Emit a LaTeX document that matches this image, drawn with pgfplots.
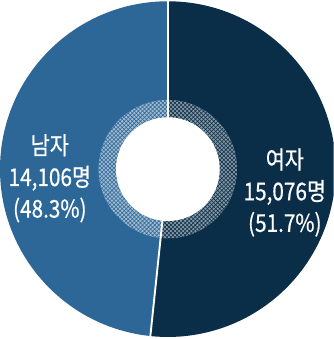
\documentclass[border=0pt]{standalone}
\usepackage{pgfplots}
\pgfplotsset{compat=1.18}
\usepackage{pgfplotstable}
\usepackage{fontspec}
\usetikzlibrary{patterns}
\newfontfamily\kr[FakeStretch=0.85, FakeBold=0.6]{Noto Sans CJK KR}

\definecolor{male}{HTML}{2D6797}
\definecolor{female}{HTML}{0A2E47}

% people by sex: female, male
\pgfplotstableread{
sex value
female 15076
male 14106
}\gender

\begin{document}
\begin{tikzpicture}
\pgfplotstablegetelem{0}{value}\of\gender \let\vf\pgfplotsretval
\pgfplotstablegetelem{1}{value}\of\gender \let\vm\pgfplotsretval
\pgfmathsetmacro\af{90-360*(\vf/1000)/(\vf/1000+\vm/1000)}
\pgfmathsetmacro\am{\af+360}
\begin{axis}[hide axis, x=0.75pt, y=0.75pt,
    xmin=0, xmax=336, ymin=0, ymax=339, clip=true]
\def\cx{173}\def\cy{167}
% outer slices (radii in px, 1px = 0.75pt)
\fill[female] (axis cs:\cx,\cy) -- (axis cs:\cx,\cy+165)
    arc[start angle=90, end angle=\af, radius=123.75pt] -- cycle;
\fill[male] (axis cs:\cx,\cy) -- (axis cs:\cx,\cy+165)
    arc[start angle=90, end angle=\am, radius=123.75pt] -- cycle;
% textured inner ring
\fill[female!50!white] (axis cs:\cx,\cy) -- (axis cs:\cx,\cy+68)
    arc[start angle=90, end angle=\af, radius=51pt] -- cycle;
\fill[pattern=crosshatch, pattern color=female] (axis cs:\cx,\cy) -- (axis cs:\cx,\cy+68)
    arc[start angle=90, end angle=\af, radius=51pt] -- cycle;
\fill[male!45!white] (axis cs:\cx,\cy) -- (axis cs:\cx,\cy+68)
    arc[start angle=90, end angle=\am, radius=51pt] -- cycle;
\fill[pattern=crosshatch, pattern color=male] (axis cs:\cx,\cy) -- (axis cs:\cx,\cy+68)
    arc[start angle=90, end angle=\am, radius=51pt] -- cycle;
\fill[white] (axis cs:\cx,\cy) circle[radius=38.25pt];
% separators
\draw[white, line width=1.4pt] (axis cs:\cx,\cy) ++(90:38pt) -- ++(90:86pt);
\draw[white, line width=1.4pt] (axis cs:\cx,\cy) ++(\af:38pt) -- ++(\af:86pt);
% labels
\node[white, align=center, font=\kr\fontsize{18}{23.3}\selectfont]
    at (axis cs:57,158) {남자\\14,106명\\(48.3\%)};
\node[white, align=center, font=\kr\fontsize{18}{23.3}\selectfont]
    at (axis cs:288,144) {여자\\15,076명\\(51.7\%)};
\end{axis}
\end{tikzpicture}
\end{document}
